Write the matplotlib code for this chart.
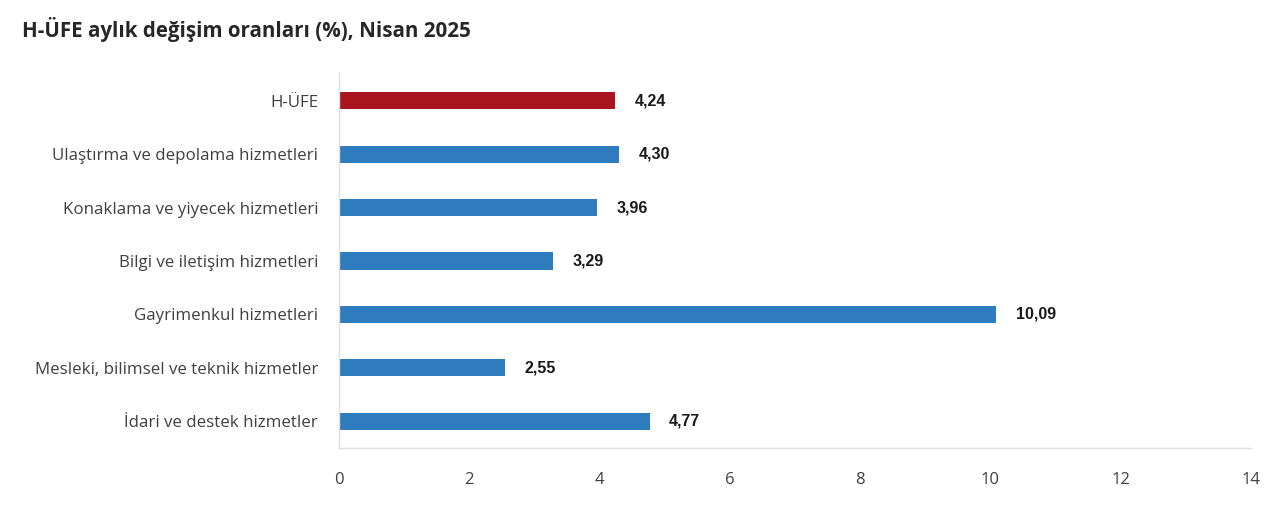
import matplotlib
matplotlib.use("Agg")
import matplotlib.pyplot as plt

categories = ["H-ÜFE", "Ulaştırma ve depolama hizmetleri", "Konaklama ve yiyecek hizmetleri",
              "Bilgi ve iletişim hizmetleri", "Gayrimenkul hizmetleri",
              "Mesleki, bilimsel ve teknik hizmetler", "İdari ve destek hizmetler"]
values = [4.24, 4.30, 3.96, 3.29, 10.09, 2.55, 4.77]
value_labels = ["4,24", "4,30", "3,96", "3,29", "10,09", "2,55", "4,77"]
xticks = [0, 2, 4, 6, 8, 10, 12, 14]
colors = ["#A8151E"] + ["#2E7BBE"] * 6

fig = plt.figure(figsize=(12.8, 5.17), dpi=100)
ax = fig.add_axes([339/1280, 1-448/517, 912/1280, 375/517])
y = list(range(len(categories)))
ax.barh(y, values, height=0.32, color=colors)
ax.set_ylim(6.5, -0.52)
ax.set_xlim(0, 14)
ax.set_xticks(xticks)
ax.set_xticklabels([str(t) for t in xticks], fontsize=12, color="#404040", family="Open Sans")
ax.set_yticks(y)
ax.set_yticklabels(categories, fontsize=12.2, color="#404040", family="Open Sans")
ax.tick_params(axis="both", length=0)
ax.tick_params(axis="x", pad=17)
ax.tick_params(axis="y", pad=15)
for s in ["top", "right"]:
    ax.spines[s].set_visible(False)
for s in ["left", "bottom"]:
    ax.spines[s].set_color("#e0e0e0")
    ax.spines[s].set_linewidth(1)
for yi, v, lab in zip(y, values, value_labels):
    ax.annotate(lab, (v, yi), xytext=(14, 0), textcoords="offset points",
                va="center", ha="left", fontsize=11.5, fontweight="bold",
                color="#1a1a1a", family="Liberation Sans")
fig.text(22/1280, 1-30/517, "H-ÜFE aylık değişim oranları (%), Nisan 2025", fontsize=14.8,
         fontweight="bold", color="#262626", family="Open Sans", va="center", ha="left")
fig.savefig("out.png", dpi=100, facecolor="white")
